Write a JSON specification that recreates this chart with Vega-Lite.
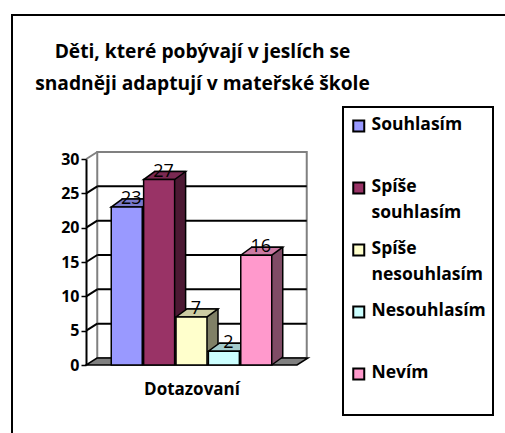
{
  "$schema": "https://vega.github.io/schema/vega-lite/v6.json",
  "width": 497,
  "height": 422,
  "autosize": {"type": "none"},
  "padding": {"left": 12, "top": 15, "right": -4, "bottom": -4},
  "background": "white",
  "config": {
    "view": {"stroke": "black", "strokeWidth": 2, "fill": "white"},
    "font": "Open Sans"
  },
  "title": {
    "text": ["Děti, které pobývají v jeslích se", "snadněji adaptují v mateřské škole"],
    "font": "Open Sans",
    "fontSize": 19.2,
    "fontWeight": "bold",
    "color": "black",
    "anchor": "middle",
    "frame": "group",
    "dx": -58,
    "offset": -79,
    "lineHeight": 32
  },
  "datasets": {
    "answers": [
      {"series": "Souhlasím", "value": 23},
      {"series": "Spíše souhlasím", "value": 27},
      {"series": "Spíše nesouhlasím", "value": 7},
      {"series": "Nesouhlasím", "value": 2},
      {"series": "Nevím", "value": 16}
    ],
    "grid": [{"v": 5}, {"v": 10}, {"v": 15}, {"v": 20}, {"v": 25}, {"v": 30}],
    "wall": [{"lo": 0, "hi": 30}]
  },
  "resolve": {"scale": {"fill": "independent"}},
  "layer": [
    {
      "data": {"name": "wall"},
      "mark": {"type": "rect", "fill": "white", "stroke": "#808080", "strokeWidth": 2, "xOffset": -14, "x2Offset": 35, "yOffset": -7, "y2Offset": -7},
      "encoding": {
        "x": {"datum": "Souhlasím", "bandPosition": 0, "type": "nominal"},
        "x2": {"datum": "Nevím", "bandPosition": 1},
        "y": {"field": "lo", "type": "quantitative"},
        "y2": {"field": "hi"}
      }
    },
    {
      "data": {"name": "grid"},
      "transform": [{"filter": "datum.v < 30"}],
      "mark": {"type": "rule", "strokeWidth": 2, "color": "black", "xOffset": -14, "x2Offset": 35, "yOffset": -7},
      "encoding": {
        "x": {"datum": "Souhlasím", "bandPosition": 0, "type": "nominal"},
        "x2": {"datum": "Nevím", "bandPosition": 1},
        "y": {"field": "v", "type": "quantitative"}
      }
    },
    {
      "data": {"name": "grid"},
      "mark": {"type": "rule", "strokeWidth": 2, "xOffset": -25, "x2Offset": -14, "y2Offset": -7},
      "encoding": {
        "x": {"datum": "Souhlasím", "bandPosition": 0, "type": "nominal"},
        "x2": {"datum": "Souhlasím", "bandPosition": 0},
        "y": {"field": "v", "type": "quantitative"},
        "y2": {"field": "v"},
        "color": {"condition": {"test": "datum.v == 30", "value": "#808080"}, "value": "black"}
      }
    },
    {
      "data": {"name": "wall"},
      "mark": {"type": "point", "shape": "M-105.5,0L105.5,0L116.5,-7L-94.5,-7Z", "size": 4, "filled": true, "fill": "#808080", "stroke": "black", "strokeWidth": 1.5, "opacity": 1},
      "encoding": {
        "x": {"datum": "Spíše nesouhlasím", "type": "nominal"},
        "y": {"datum": 0, "type": "quantitative"}
      }
    },
    {
      "data": {"name": "answers"},
      "mark": {"type": "bar", "stroke": "black", "strokeWidth": 1.5, "xOffset": 11, "x2Offset": 11, "yOffset": -8, "y2Offset": -8},
      "encoding": {
        "x": {"field": "series", "type": "nominal"},
        "y": {"field": "value", "type": "quantitative"},
        "fill": {"field": "series", "type": "nominal", "legend": null,
          "scale": {"domain": ["Souhlasím", "Spíše souhlasím", "Spíše nesouhlasím", "Nesouhlasím", "Nevím"], "range": ["#4c4c80", "#4c1933", "#808066", "#668080", "#804c66"]}}
      }
    },
    {
      "data": {"name": "answers"},
      "mark": {"type": "point", "shape": "M15.5,0L15.5,-8.9L25.6,-8.9L25.6,-7.35Z", "size": 4, "filled": true, "strokeWidth": 0, "opacity": 1},
      "encoding": {
        "x": {"field": "series", "type": "nominal"},
        "y": {"datum": 0, "type": "quantitative"},
        "fill": {"field": "series", "type": "nominal", "legend": null,
          "scale": {"domain": ["Souhlasím", "Spíše souhlasím", "Spíše nesouhlasím", "Nesouhlasím", "Nevím"], "range": ["#4c4c80", "#4c1933", "#808066", "#668080", "#804c66"]}}
      }
    },
    {
      "data": {"name": "answers"},
      "mark": {"type": "point", "shape": "M15.5,0L26.5,-8", "size": 4, "filled": false, "stroke": "black", "strokeWidth": 1.5, "opacity": 1},
      "encoding": {
        "x": {"field": "series", "type": "nominal"},
        "y": {"datum": 0, "type": "quantitative"}
      }
    },
    {
      "data": {"name": "answers"},
      "mark": {"type": "point", "shape": "M-15.5,0L15.5,0L26.5,-8L-4.5,-8Z", "size": 4, "filled": true, "stroke": "black", "strokeWidth": 1.5, "opacity": 1},
      "encoding": {
        "x": {"field": "series", "type": "nominal"},
        "y": {"field": "value", "type": "quantitative"},
        "fill": {"field": "series", "type": "nominal", "legend": null,
          "scale": {"domain": ["Souhlasím", "Spíše souhlasím", "Spíše nesouhlasím", "Nesouhlasím", "Nevím"], "range": ["#7a7acc", "#7a2952", "#cccca3", "#a3cccc", "#cc7aa3"]}}
      }
    },
    {
      "data": {"name": "answers"},
      "mark": {"type": "bar", "stroke": "black", "strokeWidth": 1.5},
      "encoding": {
        "x": {
          "field": "series", "type": "nominal", "sort": null,
          "scale": {"domain": ["Souhlasím", "Spíše souhlasím", "Spíše nesouhlasím", "Nesouhlasím", "Nevím"], "range": [74, 285], "paddingInner": 0.043, "paddingOuter": 0.78},
          "axis": {"orient": "bottom", "offset": -72, "domain": false, "ticks": false, "labels": false, "title": "Dotazovaní", "titleFont": "Open Sans", "titleFontSize": 17, "titleFontWeight": "bold", "titleColor": "black", "titlePadding": 16, "zindex": 1}
        },
        "y": {
          "field": "value", "type": "quantitative",
          "scale": {"domain": [0, 30], "range": [350, 144], "nice": false, "zero": true},
          "axis": {"values": [0, 5, 10, 15, 20, 25, 30], "offset": -74, "domainColor": "black", "domainWidth": 2, "tickColor": "black", "tickWidth": 1.5, "tickSize": 5, "labelFont": "Open Sans", "labelFontSize": 16, "labelFontWeight": "bold", "labelColor": "black", "labelPadding": 2, "grid": false, "title": null, "zindex": 1}
        },
        "fill": {
          "field": "series", "type": "nominal",
          "scale": {"domain": ["Souhlasím", "Spíše souhlasím", "Spíše nesouhlasím", "Nesouhlasím", "Nevím"], "range": ["#9999ff", "#993366", "#ffffcc", "#ccffff", "#ff99cc"]},
          "legend": {
            "orient": "none", "legendX": 331, "legendY": 92, "title": null,
            "symbolType": "square", "symbolSize": 121, "symbolStrokeColor": "black", "symbolStrokeWidth": 2,
            "labelFont": "Open Sans", "labelFontSize": 17.5, "labelFontWeight": "bold", "labelColor": "black",
            "labelLimit": 300, "labelOffset": 4, "labelBaseline": "alphabetic", "rowPadding": 16, "padding": 7,
            "strokeColor": "black",
            "labelExpr": "indexof(datum.label, ' ') > 0 ? split(datum.label, ' ') : [datum.label, ' ']",
            "encode": {
              "labels": {"update": {"dy": {"value": 7}, "lineHeight": {"value": 26}}},
              "symbols": {"update": {"yc": {"value": 12}}},
              "legend": {"update": {"strokeWidth": {"value": 2}}}
            }
          }
        }
      }
    },
    {
      "data": {"name": "answers"},
      "mark": {"type": "text", "dx": 4.5, "dy": -3, "baseline": "alphabetic", "font": "Open Sans", "fontSize": 18, "color": "black"},
      "encoding": {
        "x": {"field": "series", "type": "nominal"},
        "y": {"field": "value", "type": "quantitative"},
        "text": {"field": "value", "type": "quantitative"}
      }
    }
  ]
}
